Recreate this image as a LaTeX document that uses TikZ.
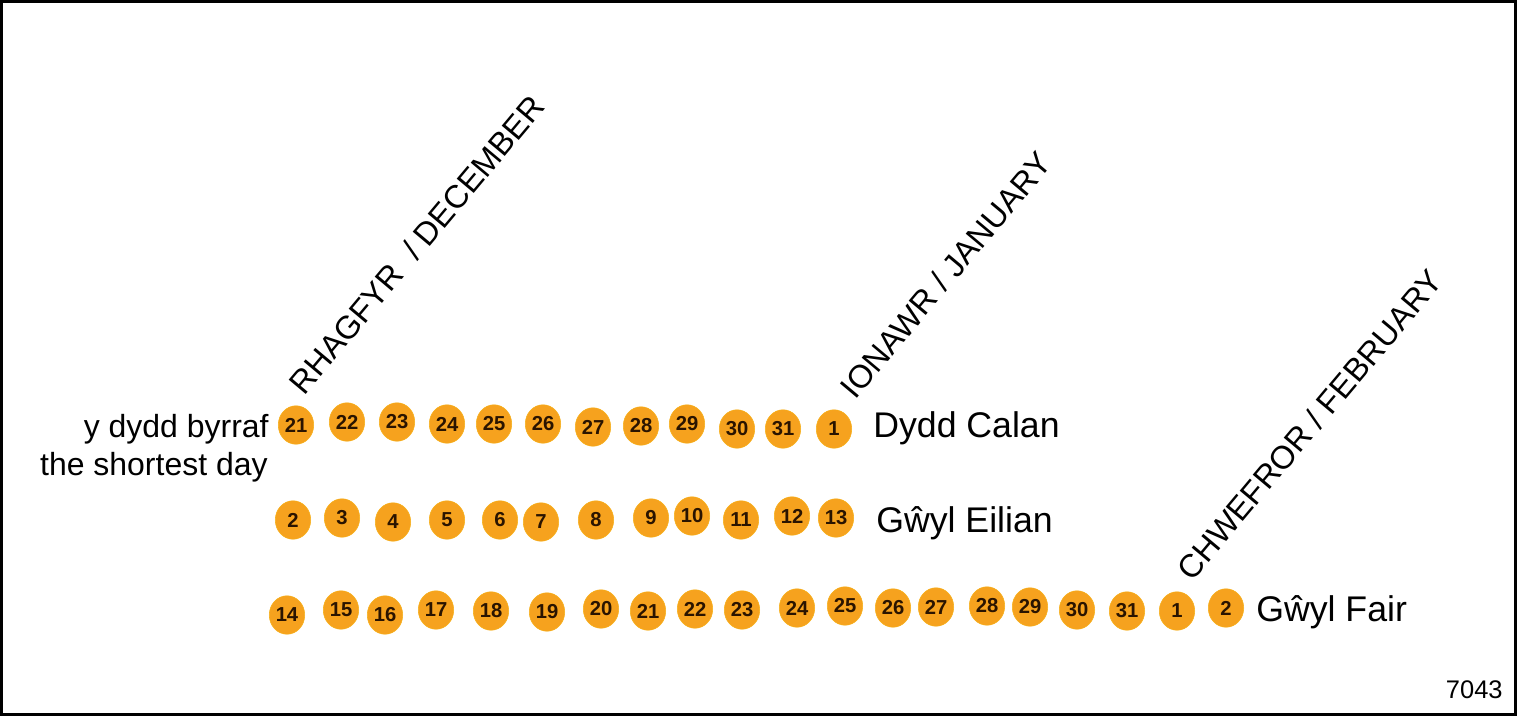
\documentclass[tikz,border=0pt]{standalone}
\usepackage{fontspec}
\setmainfont{Liberation Sans}
\usepackage{tikz}
\usetikzlibrary{shapes.geometric}
\definecolor{dayorange}{HTML}{F6A21E}
\definecolor{daytext}{HTML}{2A1400}

\begin{document}
\begin{tikzpicture}[
  x=0.02cm, y=-0.02cm,
  day/.style={ellipse, fill=dayorange, draw=dayorange!85!yellow, line width=0.3pt, minimum width=0.71cm, minimum height=0.77cm, inner sep=0pt, text=daytext, font=\fontsize{11.5}{12}\selectfont\bfseries},
  feast/.style={anchor=base west, inner sep=0pt, font=\fontsize{20.3}{24}\selectfont},
  note/.style={anchor=base east, inner sep=0pt, font=\fontsize{18.2}{22}\selectfont},
  month/.style={anchor=base west, inner sep=0pt, rotate=50, font=\fontsize{18.4}{21}\selectfont}
]
\useasboundingbox (0,0) rectangle (1518,717);
\draw[line width=0.06cm] (1.5,1.5) rectangle (1515.5,714.5);

% first row: 21 December -- 1 January
\node[day] (dec21) at (296,425) {21};
\node[day] (dec22) at (347,422) {22};
\node[day] (dec23) at (397,422) {23};
\node[day] (dec24) at (447,424) {24};
\node[day] (dec25) at (494,424) {25};
\node[day] (dec26) at (543,424) {26};
\node[day] (dec27) at (593,427) {27};
\node[day] (dec28) at (641,426) {28};
\node[day] (dec29) at (687,424) {29};
\node[day] (dec30) at (737,429) {30};
\node[day] (dec31) at (783,429) {31};
\node[day] (jan1)  at (834,429) {1};

% second row: 2 -- 13 January
\node[day] (jan2)  at (293,520) {2};
\node[day] (jan3)  at (342,518) {3};
\node[day] (jan4)  at (393,522) {4};
\node[day] (jan5)  at (447,520) {5};
\node[day] (jan6)  at (500,520) {6};
\node[day] (jan7)  at (541,522) {7};
\node[day] (jan8)  at (596,520) {8};
\node[day] (jan9)  at (651,518) {9};
\node[day] (jan10) at (692,516) {10};
\node[day] (jan11) at (741,520) {11};
\node[day] (jan12) at (792,516) {12};
\node[day] (jan13) at (836,518) {13};

% third row: 14 January -- 2 February
\node[day] (jan14) at (287,615) {14};
\node[day] (jan15) at (341,610) {15};
\node[day] (jan16) at (385,615) {16};
\node[day] (jan17) at (436,610) {17};
\node[day] (jan18) at (491,611) {18};
\node[day] (jan19) at (547,612) {19};
\node[day] (jan20) at (601,609) {20};
\node[day] (jan21) at (648,611) {21};
\node[day] (jan22) at (695,609) {22};
\node[day] (jan23) at (742,610) {23};
\node[day] (jan24) at (797,608) {24};
\node[day] (jan25) at (845,606) {25};
\node[day] (jan26) at (893,608) {26};
\node[day] (jan27) at (936,607) {27};
\node[day] (jan28) at (987,606) {28};
\node[day] (jan29) at (1030,607) {29};
\node[day] (jan30) at (1077,610) {30};
\node[day] (jan31) at (1127,611) {31};
\node[day] (feb1)  at (1177,611) {1};
\node[day] (feb2)  at (1226,608) {2};

% labels
\node[note] (short)  at (269,437) {y dydd byrraf};
\node[note] (shorten) at (268,475) {the shortest day};
\node[feast] (calan)  at (873,437) {Dydd Calan};
\node[feast] (eilian) at (876,532) {Gŵyl Eilian};
\node[feast] (fair)   at (1256,621) {Gŵyl Fair};
\node[anchor=base east, inner sep=0pt, font=\fontsize{14.5}{17}\selectfont] (fig) at (1503,698) {7043};

% month headings
\node[month] (mdec) at (304,397) {RHAGFYR \ / DECEMBER};
\node[month] (mjan) at (855,401) {IONAWR / JANUARY};
\node[month] (mfeb) at (1192,583) {CHWEFROR / FEBRUARY};
\end{tikzpicture}
\end{document}
